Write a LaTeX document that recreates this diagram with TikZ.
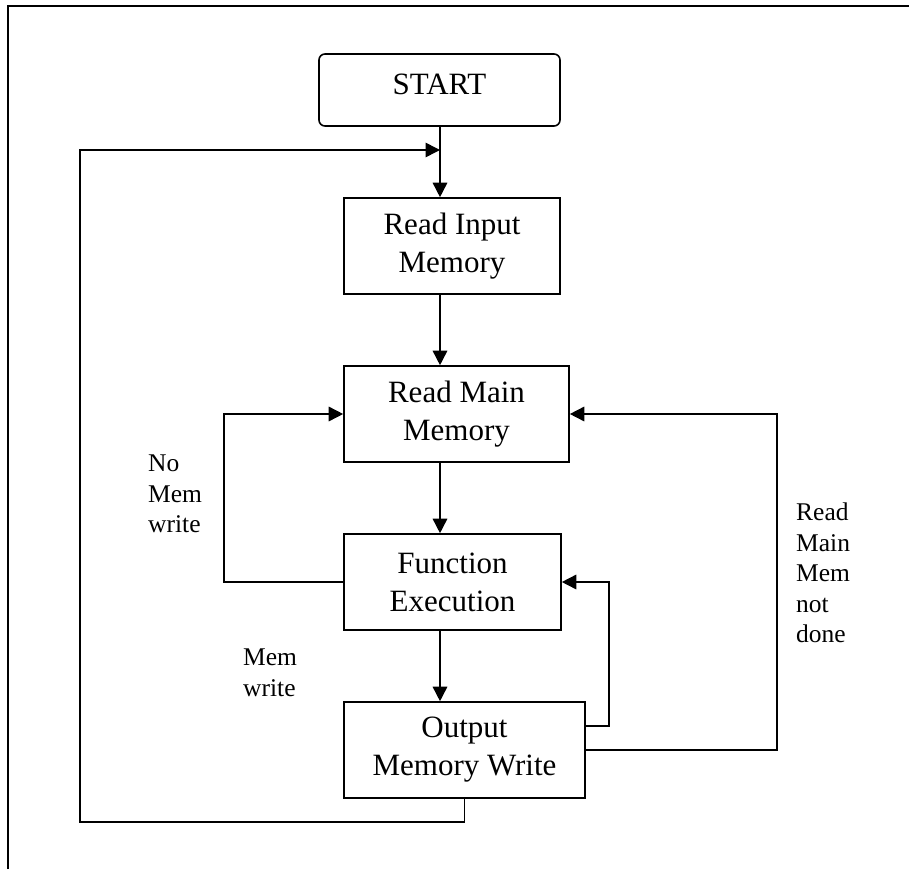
\documentclass[tikz,border=0pt]{standalone}
\usepackage{fontspec}
\setmainfont{Liberation Serif}
\usetikzlibrary{arrows.meta}

\tikzset{
  flow/.style={line width=1.6pt, line join=miter},
  arr/.style={flow, -{Triangle[length=14.5pt,width=14.5pt]}},
  stepbox/.style={draw, line width=1.6pt, rectangle, inner sep=0pt,
    align=center, font=\fontsize{31}{38}\selectfont},
  termbox/.style={stepbox, rounded corners=6pt},
  note/.style={inner sep=0pt, anchor=north west, align=left,
    font=\fontsize{25.5}{30.5}\selectfont}
}

\begin{document}
\begin{tikzpicture}[x=1pt, y=-1pt]
  \useasboundingbox (0,0) rectangle (909,869);

  % page frame (top and left edges)
  \draw[line width=1.8pt] (8,869) -- (8,6) -- (909,6);

  % process steps
  \node[termbox, minimum width=241pt, minimum height=72pt] (start) at (439.5,90) {};
  \node[font=\fontsize{31}{38}\selectfont, inner sep=0pt] (starttxt) at (439.5,84) {START};
  \node[stepbox, minimum width=216pt, minimum height=96pt] (rin) at (452,246) {Read Input\\Memory};
  \node[stepbox, minimum width=225pt, minimum height=96pt] (rm)  at (456.5,414) {Read Main\\Memory};
  \node[stepbox, minimum width=217pt, minimum height=96pt] (fn)  at (452.5,582) {Function\\Execution};
  \node[stepbox, minimum width=241pt, minimum height=96pt] (out) at (464.5,750) {Output\\Memory Write};

  % routing points
  \coordinate (join) at (440,150);
  \coordinate (backbl) at (80,822);
  \coordinate (backtl) at (80,150);
  \coordinate (nowr) at (224,582);
  \coordinate (inner) at (609,726);
  \coordinate (outer) at (777,750);

  % main flow
  \draw[arr] (start.south -| join) -- (join |- rin.north);
  \draw[arr] (join |- rin.south) -- (join |- rm.north);
  \draw[arr] (join |- rm.south) -- (join |- fn.north);
  \draw[arr] (join |- fn.south) -- (join |- out.north);

  % return to the start of the cycle
  \draw[arr] (out.south) |- (backbl) -- (backtl) -- (join);

  % no memory write: back to reading main memory
  \draw[arr] (fn.west) -- (nowr) |- (rm.west);

  % output write back to function execution
  \draw[arr] (inner -| out.east) -- (inner) |- (fn.east);

  % main memory read not done
  \draw[arr] (out.east) -- (outer) |- (rm.east);

  % labels
  \node[note] (lblno) at (148,455) {No\\Mem\\write};
  \node[note] (lblmw) at (243,649) {Mem\\write};
  \node[note] (lblrd) at (796,503) {Read\\Main\\Mem\\not\\done};
\end{tikzpicture}
\end{document}
